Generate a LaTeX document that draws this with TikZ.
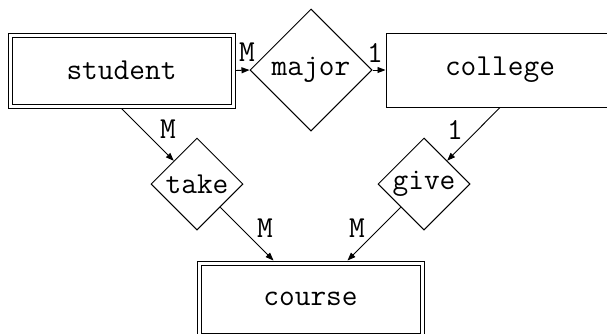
\documentclass[tikz,border=0pt]{standalone}
\usetikzlibrary{arrows.meta,shapes.geometric,calc}
\begin{document}
\begin{tikzpicture}[x=1pt,y=-1pt,
  every node/.style={font=\fontsize{30.5}{36}\selectfont\ttfamily},
  line width=1pt,
  dbox/.style={draw,rectangle,double,double distance=3pt,inner sep=0pt,outer sep=2.5pt},
  sbox/.style={draw,rectangle,inner sep=0pt,outer sep=0.5pt},
  rel/.style={draw,diamond,shape aspect=1,inner sep=0pt,outer sep=0.5pt},
  lbl/.style={inner sep=0pt},
  conn/.style={-{Triangle[length=8pt,width=6pt]},line width=0.9pt}]
\useasboundingbox (0,0) rectangle (607,333);
\clip (0,0) rectangle (607,333);
\node[dbox,minimum width=223pt,minimum height=71pt] (student) at (121.5,70.5) {student};
\node[sbox,minimum width=228pt,minimum height=74pt] (college) at (500,70) {college};
\node[dbox,minimum width=223pt,minimum height=72pt] (course) at (310.5,299) {course};
\node[rel,minimum width=122pt,minimum height=122pt] (major) at (311,70) {major};
\node[rel,minimum width=92pt,minimum height=92pt] (take) at (197,184) {take};
\node[rel,minimum width=92pt,minimum height=92pt] (give) at (424,184) {give};
\draw[conn] (student.east) -- (major.west);
\draw[conn] (major.east) -- (college.west);
\draw[conn] (student.south) -- (take);
\draw[conn] (college.south) -- (give);
\draw[conn] (take.south east) -- ($(course.north)+(-37,0)$);
\draw[conn] (give.south west) -- ($(course.north)+(37,0)$);
\node[lbl] (l1) at (247,52) {M};
\node[lbl] (l2) at (375,53) {1};
\node[lbl] (l3) at (168,129) {M};
\node[lbl] (l4) at (455,130) {1};
\node[lbl] (l5) at (265,228) {M};
\node[lbl] (l6) at (357,228) {M};
\end{tikzpicture}
\end{document}
